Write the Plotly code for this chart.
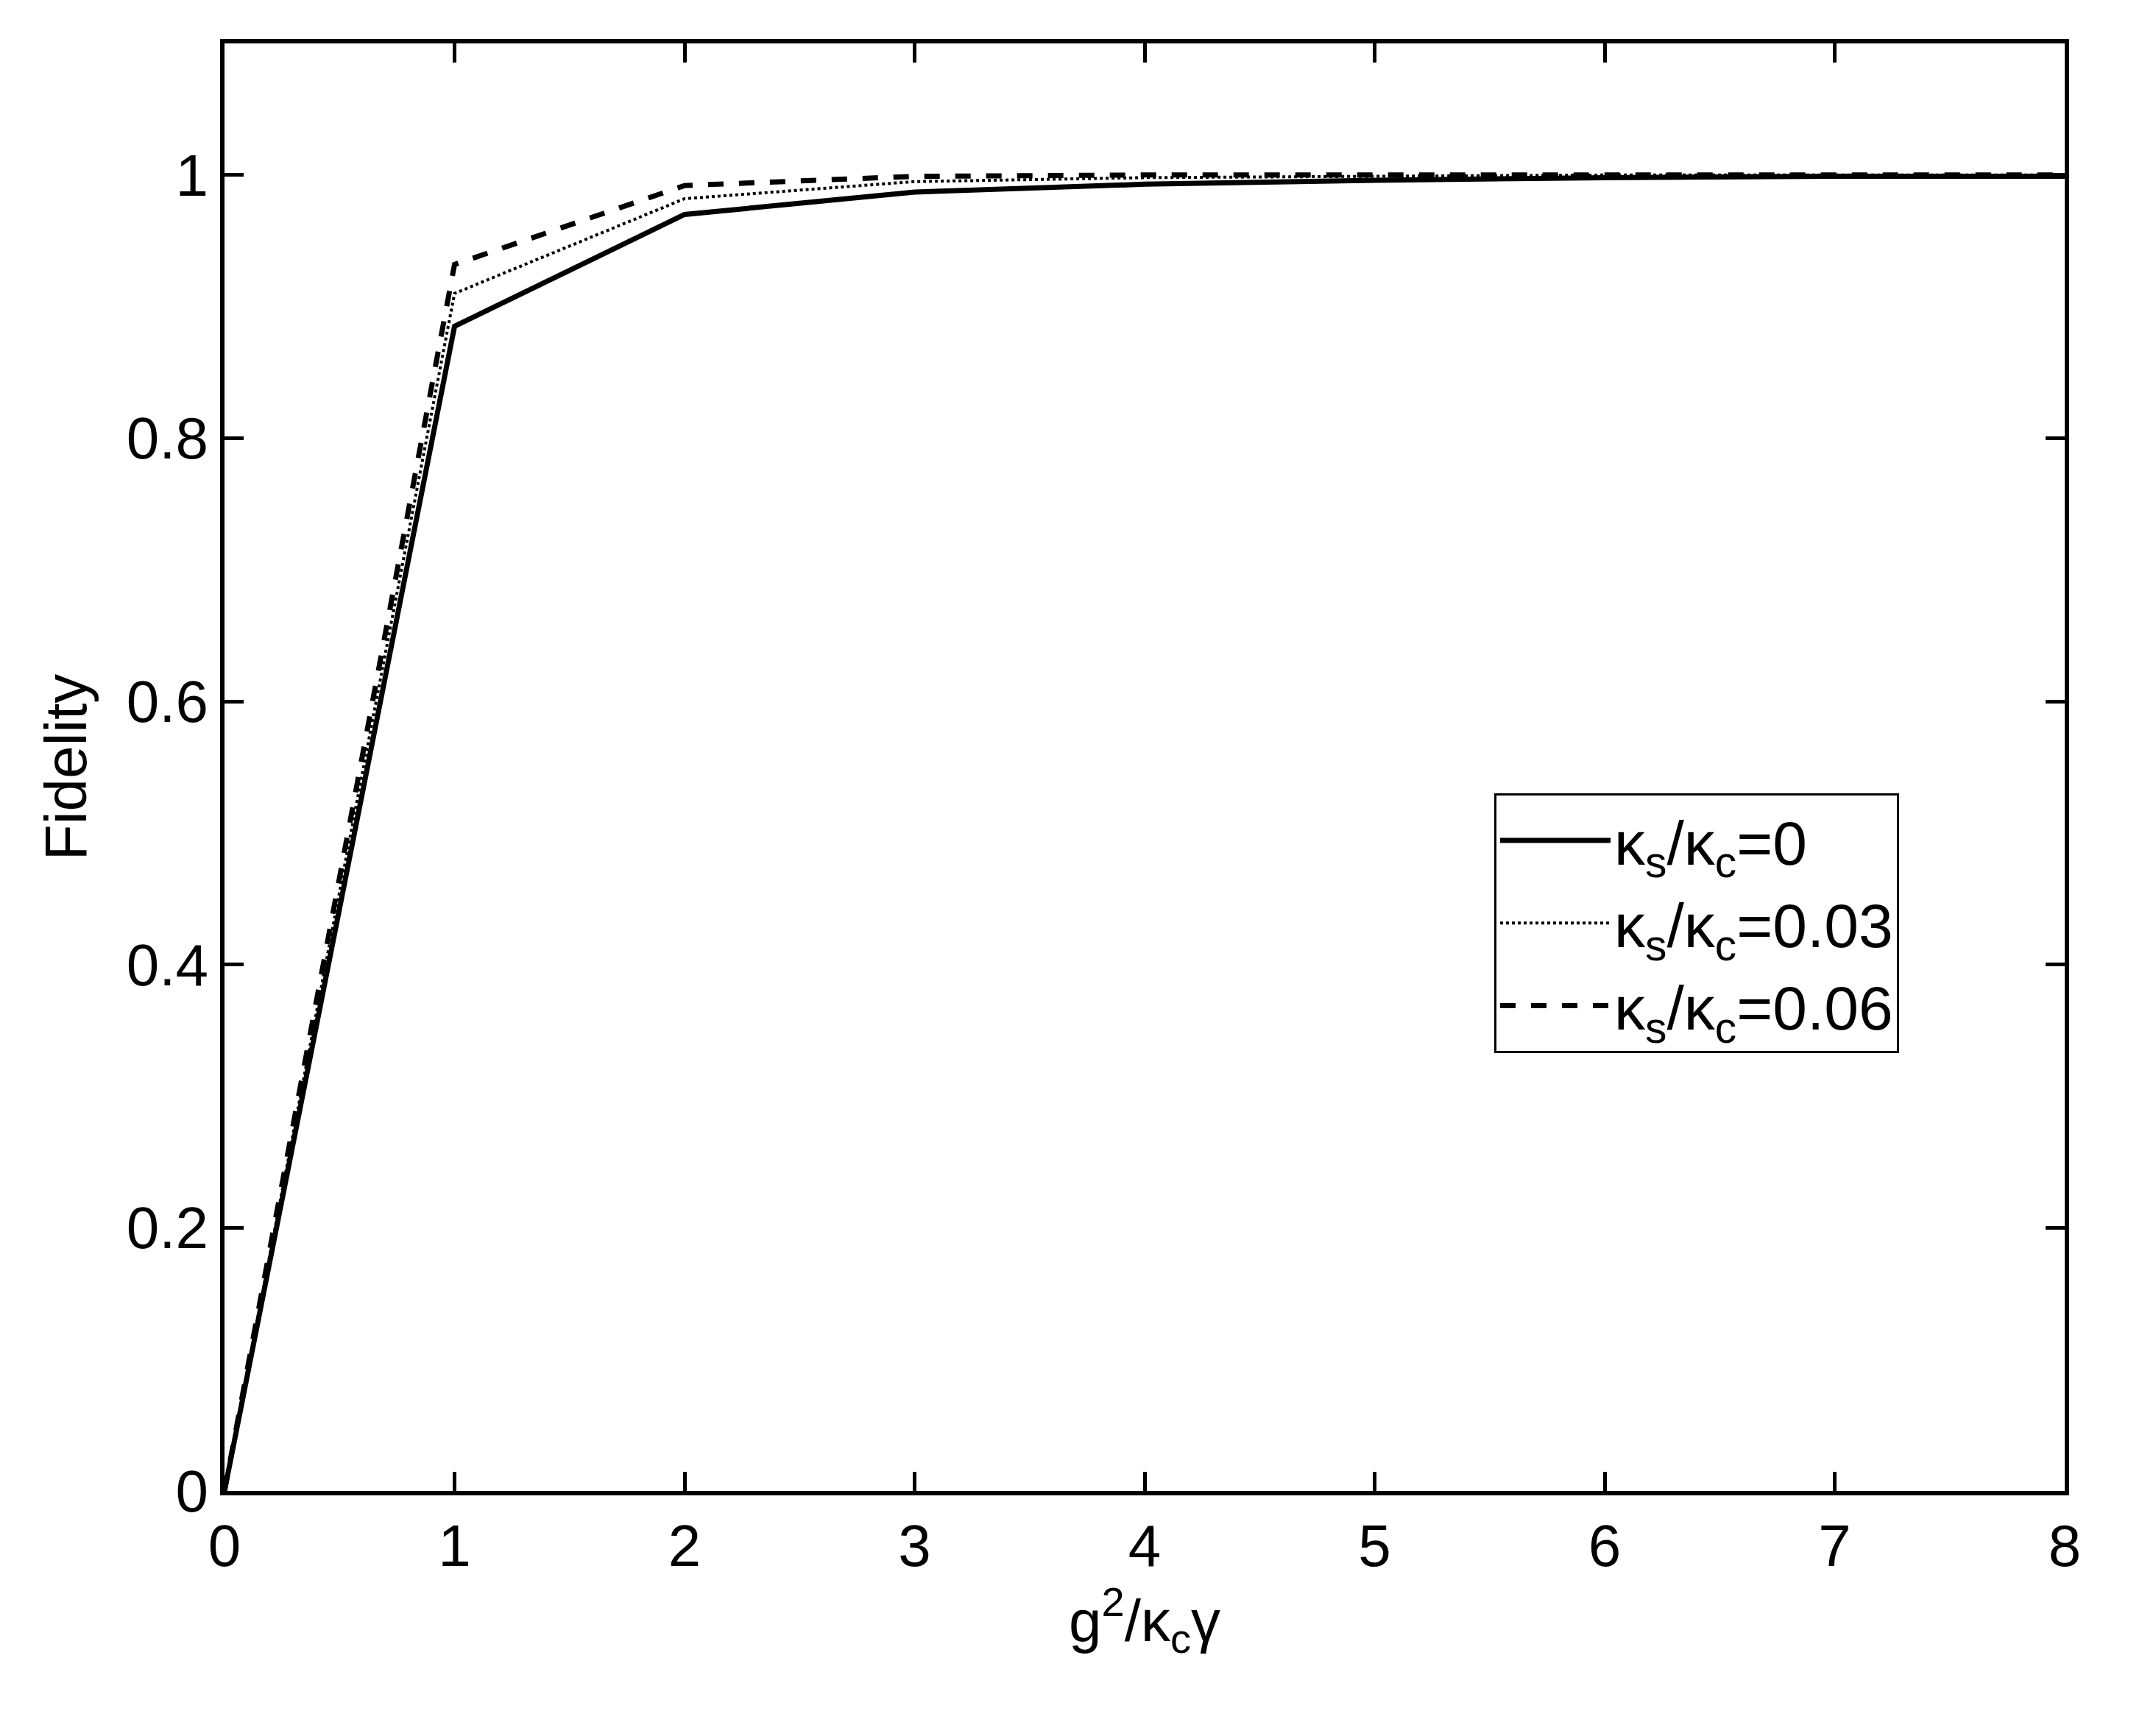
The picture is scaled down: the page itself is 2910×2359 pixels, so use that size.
import plotly.graph_objects as go

x = [0, 1, 2, 3, 4, 5, 6, 7, 8]
f_0 = [0, 0.885, 0.970, 0.987, 0.993, 0.996, 0.998, 0.999, 0.999]
f_003 = [0, 0.910, 0.982, 0.995, 0.998, 0.999, 1.0, 1.0, 1.0]
f_006 = [0, 0.932, 0.992, 0.999, 1.0, 1.0, 1.0, 1.0, 1.0]
names = ["κ<sub>s</sub>/κ<sub>c</sub>=0", "κ<sub>s</sub>/κ<sub>c</sub>=0.03", "κ<sub>s</sub>/κ<sub>c</sub>=0.06"]

fig = go.Figure()
fig.add_trace(go.Scatter(x=x, y=f_0, mode="lines", name=names[0], line=dict(color="black", width=7, dash="solid")))
fig.add_trace(go.Scatter(x=x, y=f_003, mode="lines", name=names[1], line=dict(color="black", width=4, dash="dot")))
fig.add_trace(go.Scatter(x=x, y=f_006, mode="lines", name=names[2], line=dict(color="black", width=7, dash="dash")))

ax = dict(showline=True, linecolor="black", linewidth=6, mirror="ticks", ticks="inside",
          ticklen=26, tickwidth=5, tickcolor="black", showgrid=False, zeroline=False,
          tickfont=dict(size=80, color="black"))
fig.update_xaxes(range=[0, 8], dtick=1, title=dict(text="g<sup>2</sup>/κ<sub>c</sub>γ", font=dict(size=80, color="black"), standoff=25), **ax)
fig.update_yaxes(range=[0, 1.1], tickvals=[0, 0.2, 0.4, 0.6, 0.8, 1], ticktext=["0", "0.2", "0.4", "0.6", "0.8", "1"],
                 title=dict(text="Fidelity", font=dict(size=80, color="black"), standoff=30), **ax)
fig.update_layout(width=2910, height=2359, paper_bgcolor="white", plot_bgcolor="white",
                  font=dict(family="Liberation Sans, Arial", color="black"),
                  margin=dict(l=297, r=113, t=51, b=341),
                  legend=dict(x=0.69, y=0.482, xanchor="left", yanchor="top", bgcolor="white",
                              bordercolor="black", borderwidth=3, font=dict(size=84),
                              itemwidth=150, tracegroupgap=20),
                  showlegend=True)
fig.write_html("out.html")
